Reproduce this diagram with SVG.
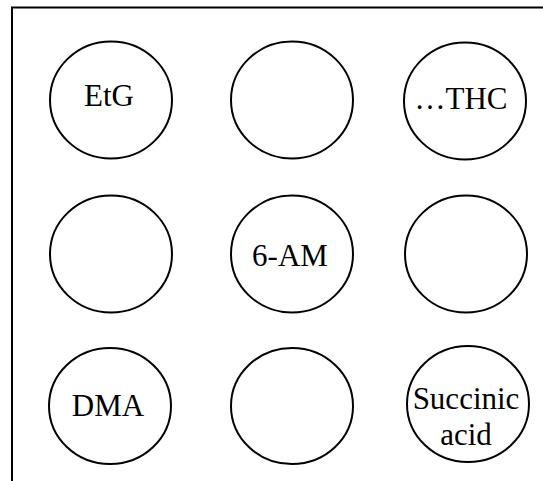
<svg xmlns="http://www.w3.org/2000/svg" width="543" height="481" viewBox="0 0 543 481">
<style>
.c{fill:#fff;stroke:#000;stroke-width:2}
.t{font-family:"Liberation Serif","Times New Roman",serif;font-size:31px;fill:#000;text-anchor:middle}
.f{fill:none;stroke:#000;stroke-width:2}
</style>
<rect width="543" height="481" fill="#fff"/>
<g id="frame"><path class="f" d="M12 481 V7.5 H543"/></g>
<g id="connectors"/>
<g id="n1"><ellipse class="c" cx="111" cy="100" rx="61" ry="58.5"/><text class="t" x="109" y="106">EtG</text></g>
<g id="n2"><ellipse class="c" cx="292" cy="100" rx="61" ry="58.5"/></g>
<g id="n3"><ellipse class="c" cx="465" cy="101" rx="61" ry="58.5"/><text class="t" x="461" y="109">…THC</text></g>
<g id="n4"><ellipse class="c" cx="111" cy="254" rx="61" ry="58.5"/></g>
<g id="n5"><ellipse class="c" cx="292" cy="254" rx="61" ry="58.5"/><text class="t" x="290" y="266">6-AM</text></g>
<g id="n6"><ellipse class="c" cx="466" cy="254" rx="61" ry="58.5"/></g>
<g id="n7"><ellipse class="c" cx="110" cy="406" rx="61" ry="58"/><text class="t" x="108" y="416">DMA</text></g>
<g id="n8"><ellipse class="c" cx="292" cy="406" rx="61" ry="58"/></g>
<g id="n9"><ellipse class="c" cx="468" cy="404" rx="61" ry="58"/><text class="t" x="466" y="409">Succinic</text><text class="t" x="466" y="445">acid</text></g>
</svg>
